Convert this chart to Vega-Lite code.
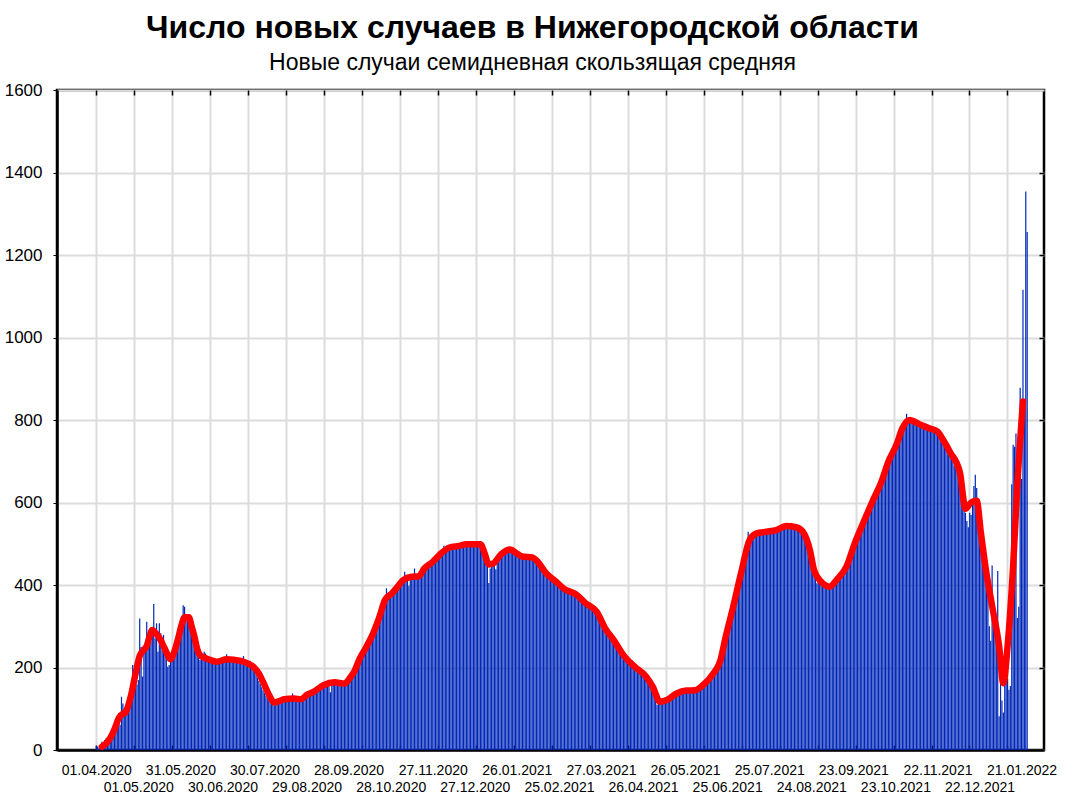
{
"$schema":"https://vega.github.io/schema/vega-lite/v6.json",
"width":987,"height":660,
"autosize":"none",
"padding":{"left":57,"top":90,"right":21,"bottom":46},
"background":"white",
"config":{"view":{"stroke":"black","strokeWidth":2.5},"font":"Liberation Sans","axis":{"labelFont":"Liberation Sans","labelColor":"black"}},
"title":{"text":"Число новых случаев в Нижегородской области","subtitle":"Новые случаи семидневная скользящая средняя","font":"Liberation Sans","fontSize":32,"fontWeight":"bold","color":"black","subtitleFont":"Liberation Sans","subtitleFontSize":23,"subtitleColor":"black","subtitlePadding":7,"anchor":"middle","dx":-18,"offset":5},
"datasets":{
"bars":[{"d":0,"n":10},{"d":1,"n":8},{"d":2,"n":4},{"d":3,"n":7},{"d":4,"n":20},{"d":5,"n":16},{"d":6,"n":24},{"d":7,"n":28},{"d":8,"n":30},{"d":9,"n":34},{"d":10,"n":40},{"d":11,"n":46},{"d":12,"n":55},{"d":13,"n":62},{"d":14,"n":75},{"d":15,"n":82},{"d":16,"n":89},{"d":17,"n":61},{"d":18,"n":129},{"d":19,"n":113},{"d":20,"n":101},{"d":21,"n":97},{"d":22,"n":93},{"d":23,"n":105},{"d":24,"n":121},{"d":25,"n":137},{"d":26,"n":206},{"d":27,"n":170},{"d":28,"n":186},{"d":29,"n":158},{"d":30,"n":170},{"d":31,"n":319},{"d":32,"n":250},{"d":33,"n":178},{"d":34,"n":242},{"d":35,"n":255},{"d":36,"n":311},{"d":37,"n":271},{"d":38,"n":287},{"d":39,"n":263},{"d":40,"n":287},{"d":41,"n":354},{"d":42,"n":271},{"d":43,"n":307},{"d":44,"n":238},{"d":45,"n":307},{"d":46,"n":283},{"d":47,"n":242},{"d":48,"n":279},{"d":49,"n":246},{"d":50,"n":230},{"d":51,"n":202},{"d":52,"n":206},{"d":53,"n":218},{"d":54,"n":222},{"d":55,"n":226},{"d":56,"n":234},{"d":57,"n":246},{"d":58,"n":255},{"d":59,"n":275},{"d":60,"n":299},{"d":61,"n":315},{"d":62,"n":351},{"d":63,"n":347},{"d":64,"n":323},{"d":65,"n":315},{"d":66,"n":311},{"d":67,"n":307},{"d":68,"n":291},{"d":69,"n":303},{"d":70,"n":271},{"d":71,"n":275},{"d":72,"n":246},{"d":73,"n":238},{"d":74,"n":218},{"d":75,"n":234},{"d":76,"n":222},{"d":77,"n":238},{"d":78,"n":234},{"d":79,"n":226},{"d":80,"n":214},
{"d":81,"n":218},{"d":82,"n":216},{"d":83,"n":215},{"d":84,"n":212},{"d":85,"n":214},{"d":86,"n":213},{"d":87,"n":215},{"d":88,"n":217},{"d":89,"n":219},{"d":90,"n":222},{"d":91,"n":220},{"d":92,"n":224},{"d":93,"n":232},{"d":94,"n":222},{"d":95,"n":219},{"d":96,"n":218},{"d":97,"n":216},{"d":98,"n":218},{"d":99,"n":215},{"d":100,"n":217},{"d":101,"n":214},{"d":102,"n":213},{"d":103,"n":216},{"d":104,"n":214},{"d":105,"n":228},{"d":106,"n":212},{"d":107,"n":210},{"d":108,"n":209},{"d":109,"n":206},{"d":110,"n":216},{"d":111,"n":200},{"d":112,"n":196},{"d":113,"n":190},{"d":114,"n":183},{"d":115,"n":176},{"d":116,"n":168},{"d":117,"n":160},{"d":118,"n":152},{"d":119,"n":145},{"d":120,"n":138},{"d":121,"n":132},{"d":122,"n":126},{"d":123,"n":120},{"d":124,"n":115},{"d":125,"n":112},{"d":126,"n":109},{"d":127,"n":108},{"d":128,"n":110},{"d":129,"n":114},{"d":130,"n":116},{"d":131,"n":118},{"d":132,"n":120},{"d":133,"n":121},{"d":134,"n":122},{"d":135,"n":125},{"d":136,"n":123},{"d":137,"n":124},{"d":138,"n":126},{"d":139,"n":124},{"d":140,"n":137},{"d":141,"n":125},{"d":142,"n":122},{"d":143,"n":123},{"d":144,"n":121},{"d":145,"n":122},{"d":146,"n":120},{"d":147,"n":124},{"d":148,"n":128},{"d":149,"n":131},{"d":150,"n":134},{"d":151,"n":136},{"d":152,"n":138},{"d":153,"n":139},{"d":154,"n":140},{"d":155,"n":141},{"d":156,"n":143},{"d":157,"n":145},{"d":158,"n":147},{"d":159,"n":150},{"d":160,"n":152},{"d":161,"n":154},{"d":162,"n":155},{"d":163,"n":157},{"d":164,"n":158},{"d":165,"n":160},{"d":166,"n":161},{"d":167,"n":140},{"d":168,"n":162},{"d":169,"n":164},{"d":170,"n":163},{"d":171,"n":165},{"d":172,"n":163},{"d":173,"n":162},{"d":174,"n":160},{"d":175,"n":161},{"d":176,"n":159},{"d":177,"n":160},{"d":178,"n":163},{"d":179,"n":167},{"d":180,"n":172},
{"d":181,"n":176},{"d":182,"n":181},{"d":183,"n":187},{"d":184,"n":193},{"d":185,"n":201},{"d":186,"n":208},{"d":187,"n":215},{"d":188,"n":221},{"d":189,"n":228},{"d":190,"n":234},{"d":191,"n":240},{"d":192,"n":246},{"d":193,"n":252},{"d":194,"n":258},{"d":195,"n":265},{"d":196,"n":272},{"d":197,"n":279},{"d":198,"n":288},{"d":199,"n":297},{"d":200,"n":306},{"d":201,"n":315},{"d":202,"n":324},{"d":203,"n":334},{"d":204,"n":344},{"d":205,"n":354},{"d":206,"n":362},{"d":207,"n":392},{"d":208,"n":372},{"d":209,"n":375},{"d":210,"n":378},{"d":211,"n":381},{"d":212,"n":384},{"d":213,"n":388},{"d":214,"n":392},{"d":215,"n":395},{"d":216,"n":398},{"d":217,"n":402},{"d":218,"n":406},{"d":219,"n":409},{"d":220,"n":432},{"d":221,"n":414},{"d":222,"n":416},{"d":223,"n":398},{"d":224,"n":418},{"d":225,"n":420},{"d":226,"n":419},{"d":227,"n":440},{"d":228,"n":418},{"d":229,"n":422},{"d":230,"n":421},{"d":231,"n":426},{"d":232,"n":430},{"d":233,"n":434},{"d":234,"n":438},{"d":235,"n":441},{"d":236,"n":444},{"d":237,"n":447},{"d":238,"n":450},{"d":239,"n":453},{"d":240,"n":456},{"d":241,"n":459},{"d":242,"n":463},{"d":243,"n":466},{"d":244,"n":470},{"d":245,"n":473},{"d":246,"n":476},{"d":247,"n":480},{"d":248,"n":495},{"d":249,"n":484},{"d":250,"n":486},{"d":251,"n":489},{"d":252,"n":490},{"d":253,"n":491},{"d":254,"n":492},{"d":255,"n":493},{"d":256,"n":493},{"d":257,"n":494},{"d":258,"n":495},{"d":259,"n":494},{"d":260,"n":496},{"d":261,"n":497},{"d":262,"n":498},{"d":263,"n":497},{"d":264,"n":499},{"d":265,"n":498},{"d":266,"n":499},{"d":267,"n":500},{"d":268,"n":499},{"d":269,"n":500},{"d":270,"n":498},{"d":271,"n":499},{"d":272,"n":500},{"d":273,"n":497},{"d":274,"n":495},{"d":275,"n":486},{"d":276,"n":478},{"d":277,"n":468},{"d":278,"n":458},{"d":279,"n":445},{"d":280,"n":405},
{"d":281,"n":440},{"d":282,"n":448},{"d":283,"n":452},{"d":284,"n":455},{"d":285,"n":438},{"d":286,"n":462},{"d":287,"n":467},{"d":288,"n":471},{"d":289,"n":474},{"d":290,"n":477},{"d":291,"n":480},{"d":292,"n":482},{"d":293,"n":484},{"d":294,"n":486},{"d":295,"n":485},{"d":296,"n":484},{"d":297,"n":482},{"d":298,"n":480},{"d":299,"n":478},{"d":300,"n":476},{"d":301,"n":474},{"d":302,"n":472},{"d":303,"n":470},{"d":304,"n":469},{"d":305,"n":468},{"d":306,"n":467},{"d":307,"n":468},{"d":308,"n":467},{"d":309,"n":466},{"d":310,"n":467},{"d":311,"n":465},{"d":312,"n":463},{"d":313,"n":461},{"d":314,"n":458},{"d":315,"n":454},{"d":316,"n":449},{"d":317,"n":444},{"d":318,"n":440},{"d":319,"n":436},{"d":320,"n":432},{"d":321,"n":428},{"d":322,"n":425},{"d":323,"n":422},{"d":324,"n":419},{"d":325,"n":416},{"d":326,"n":413},{"d":327,"n":410},{"d":328,"n":407},{"d":329,"n":404},{"d":330,"n":401},{"d":331,"n":398},{"d":332,"n":395},{"d":333,"n":392},{"d":334,"n":390},{"d":335,"n":388},{"d":336,"n":386},{"d":337,"n":385},{"d":338,"n":383},{"d":339,"n":382},{"d":340,"n":380},{"d":341,"n":379},{"d":342,"n":377},{"d":343,"n":374},{"d":344,"n":371},{"d":345,"n":368},{"d":346,"n":365},{"d":347,"n":362},{"d":348,"n":359},{"d":349,"n":356},{"d":350,"n":353},{"d":351,"n":350},{"d":352,"n":348},{"d":353,"n":345},{"d":354,"n":342},{"d":355,"n":339},{"d":356,"n":336},{"d":357,"n":332},{"d":358,"n":326},{"d":359,"n":318},{"d":360,"n":311},{"d":361,"n":304},{"d":362,"n":297},{"d":363,"n":292},{"d":364,"n":287},{"d":365,"n":282},{"d":366,"n":278},{"d":367,"n":273},{"d":368,"n":268},{"d":369,"n":264},{"d":370,"n":258},{"d":371,"n":253},{"d":372,"n":247},{"d":373,"n":242},{"d":374,"n":237},{"d":375,"n":232},{"d":376,"n":228},{"d":377,"n":224},{"d":378,"n":221},{"d":379,"n":218},{"d":380,"n":215},
{"d":381,"n":212},{"d":382,"n":218},{"d":383,"n":206},{"d":384,"n":202},{"d":385,"n":199},{"d":386,"n":196},{"d":387,"n":193},{"d":388,"n":190},{"d":389,"n":187},{"d":390,"n":184},{"d":391,"n":181},{"d":392,"n":178},{"d":393,"n":174},{"d":394,"n":169},{"d":395,"n":163},{"d":396,"n":157},{"d":397,"n":150},{"d":398,"n":140},{"d":399,"n":128},{"d":400,"n":110},{"d":401,"n":114},{"d":402,"n":112},{"d":403,"n":115},{"d":404,"n":117},{"d":405,"n":119},{"d":406,"n":121},{"d":407,"n":123},{"d":408,"n":125},{"d":409,"n":127},{"d":410,"n":129},{"d":411,"n":131},{"d":412,"n":133},{"d":413,"n":135},{"d":414,"n":137},{"d":415,"n":138},{"d":416,"n":140},{"d":417,"n":141},{"d":418,"n":142},{"d":419,"n":143},{"d":420,"n":144},{"d":421,"n":144},{"d":422,"n":145},{"d":423,"n":145},{"d":424,"n":144},{"d":425,"n":145},{"d":426,"n":146},{"d":427,"n":147},{"d":428,"n":149},{"d":429,"n":151},{"d":430,"n":153},{"d":431,"n":156},{"d":432,"n":158},{"d":433,"n":161},{"d":434,"n":164},{"d":435,"n":167},{"d":436,"n":170},{"d":437,"n":174},{"d":438,"n":178},{"d":439,"n":182},{"d":440,"n":187},{"d":441,"n":193},{"d":442,"n":199},{"d":443,"n":205},{"d":444,"n":212},{"d":445,"n":222},{"d":446,"n":236},{"d":447,"n":250},{"d":448,"n":264},{"d":449,"n":278},{"d":450,"n":292},{"d":451,"n":306},{"d":452,"n":319},{"d":453,"n":332},{"d":454,"n":345},{"d":455,"n":359},{"d":456,"n":373},{"d":457,"n":388},{"d":458,"n":402},{"d":459,"n":416},{"d":460,"n":430},{"d":461,"n":444},{"d":462,"n":458},{"d":463,"n":472},{"d":464,"n":486},{"d":465,"n":529},{"d":466,"n":510},{"d":467,"n":516},{"d":468,"n":519},{"d":469,"n":521},{"d":470,"n":523},{"d":471,"n":525},{"d":472,"n":526},{"d":473,"n":526},{"d":474,"n":527},{"d":475,"n":527},{"d":476,"n":528},{"d":477,"n":528},{"d":478,"n":529},{"d":479,"n":530},{"d":480,"n":530},
{"d":481,"n":531},{"d":482,"n":531},{"d":483,"n":532},{"d":484,"n":533},{"d":485,"n":533},{"d":486,"n":535},{"d":487,"n":536},{"d":488,"n":538},{"d":489,"n":539},{"d":490,"n":541},{"d":491,"n":542},{"d":492,"n":543},{"d":493,"n":544},{"d":494,"n":543},{"d":495,"n":542},{"d":496,"n":542},{"d":497,"n":541},{"d":498,"n":541},{"d":499,"n":547},{"d":500,"n":538},{"d":501,"n":536},{"d":502,"n":534},{"d":503,"n":531},{"d":504,"n":527},{"d":505,"n":520},{"d":506,"n":510},{"d":507,"n":500},{"d":508,"n":490},{"d":509,"n":480},{"d":510,"n":468},{"d":511,"n":455},{"d":512,"n":440},{"d":513,"n":426},{"d":514,"n":404},{"d":515,"n":414},{"d":516,"n":410},{"d":517,"n":407},{"d":518,"n":404},{"d":519,"n":401},{"d":520,"n":399},{"d":521,"n":397},{"d":522,"n":396},{"d":523,"n":395},{"d":524,"n":396},{"d":525,"n":399},{"d":526,"n":403},{"d":527,"n":407},{"d":528,"n":412},{"d":529,"n":416},{"d":530,"n":420},{"d":531,"n":425},{"d":532,"n":430},{"d":533,"n":435},{"d":534,"n":440},{"d":535,"n":446},{"d":536,"n":455},{"d":537,"n":465},{"d":538,"n":474},{"d":539,"n":484},{"d":540,"n":493},{"d":541,"n":501},{"d":542,"n":509},{"d":543,"n":517},{"d":544,"n":526},{"d":545,"n":534},{"d":546,"n":542},{"d":547,"n":550},{"d":548,"n":558},{"d":549,"n":566},{"d":550,"n":574},{"d":551,"n":582},{"d":552,"n":590},{"d":553,"n":598},{"d":554,"n":605},{"d":555,"n":613},{"d":556,"n":620},{"d":557,"n":628},{"d":558,"n":635},{"d":559,"n":643},{"d":560,"n":650},{"d":561,"n":660},{"d":562,"n":670},{"d":563,"n":680},{"d":564,"n":690},{"d":565,"n":699},{"d":566,"n":706},{"d":567,"n":714},{"d":568,"n":721},{"d":569,"n":728},{"d":570,"n":735},{"d":571,"n":742},{"d":572,"n":752},{"d":573,"n":761},{"d":574,"n":771},{"d":575,"n":780},{"d":576,"n":785},{"d":577,"n":790},{"d":578,"n":815},{"d":579,"n":798},{"d":580,"n":800},
{"d":581,"n":799},{"d":582,"n":797},{"d":583,"n":796},{"d":584,"n":794},{"d":585,"n":793},{"d":586,"n":791},{"d":587,"n":790},{"d":588,"n":788},{"d":589,"n":787},{"d":590,"n":785},{"d":591,"n":784},{"d":592,"n":783},{"d":593,"n":781},{"d":594,"n":780},{"d":595,"n":779},{"d":596,"n":778},{"d":597,"n":777},{"d":598,"n":775},{"d":599,"n":774},{"d":600,"n":772},{"d":601,"n":768},{"d":602,"n":763},{"d":603,"n":758},{"d":604,"n":752},{"d":605,"n":746},{"d":606,"n":740},{"d":607,"n":734},{"d":608,"n":728},{"d":609,"n":721},{"d":610,"n":712},{"d":611,"n":700},{"d":612,"n":690},{"d":613,"n":683},{"d":614,"n":676},{"d":615,"n":668},{"d":616,"n":660},{"d":617,"n":648},{"d":618,"n":625},{"d":619,"n":600},{"d":620,"n":575},{"d":621,"n":555},{"d":622,"n":540},{"d":623,"n":575},{"d":624,"n":570},{"d":625,"n":600},{"d":626,"n":640},{"d":627,"n":667},{"d":628,"n":635},{"d":629,"n":560},{"d":630,"n":520},{"d":631,"n":490},{"d":632,"n":466},{"d":633,"n":440},{"d":634,"n":493},{"d":635,"n":400},{"d":636,"n":384},{"d":637,"n":300},{"d":638,"n":265},{"d":639,"n":447},{"d":640,"n":356},{"d":641,"n":330},{"d":642,"n":310},{"d":643,"n":434},{"d":644,"n":82},{"d":645,"n":192},{"d":646,"n":120},{"d":647,"n":91},{"d":648,"n":210},{"d":649,"n":265},{"d":650,"n":173},{"d":651,"n":146},{"d":652,"n":155},{"d":653,"n":644},{"d":654,"n":740},{"d":655,"n":735},{"d":656,"n":767},{"d":657,"n":320},{"d":658,"n":347},{"d":659,"n":878},{"d":660,"n":657},{"d":661,"n":1116},{"d":662,"n":845},{"d":663,"n":1354},{"d":664,"n":1256}],
"avg":[{"d":4,"a":8},{"d":7,"a":16},{"d":10,"a":29},{"d":13,"a":50},{"d":16,"a":77},{"d":19,"a":88},{"d":21,"a":92},{"d":23,"a":110},{"d":25,"a":135},{"d":28,"a":185},{"d":31,"a":228},{"d":34,"a":243},{"d":36,"a":252},{"d":38,"a":275},{"d":40,"a":291},{"d":42,"a":285},{"d":45,"a":272},{"d":49,"a":245},{"d":53,"a":220},{"d":55,"a":232},{"d":58,"a":265},{"d":61,"a":305},{"d":63,"a":322},{"d":66,"a":322},{"d":68,"a":300},{"d":70,"a":275},{"d":72,"a":245},{"d":74,"a":230},{"d":77,"a":224},{"d":80,"a":220},{"d":86,"a":214},{"d":93,"a":220},{"d":103,"a":216},{"d":108,"a":210},{"d":112,"a":202},{"d":116,"a":185},{"d":119,"a":165},{"d":123,"a":135},{"d":127,"a":115},{"d":130,"a":118},{"d":134,"a":123},{"d":141,"a":125},{"d":146,"a":123},{"d":150,"a":133},{"d":155,"a":141},{"d":162,"a":157},{"d":170,"a":164},{"d":177,"a":161},{"d":181,"a":175},{"d":184,"a":190},{"d":188,"a":222},{"d":192,"a":246},{"d":197,"a":279},{"d":202,"a":323},{"d":206,"a":364},{"d":211,"a":380},{"d":215,"a":396},{"d":219,"a":412},{"d":225,"a":420},{"d":230,"a":421},{"d":234,"a":440},{"d":240,"a":456},{"d":246,"a":477},{"d":252,"a":491},{"d":259,"a":495},{"d":264,"a":499},{"d":274,"a":499},{"d":277,"a":477},{"d":280,"a":450},{"d":283,"a":452},{"d":289,"a":475},{"d":295,"a":486},{"d":301,"a":474},{"d":304,"a":469},{"d":311,"a":467},{"d":315,"a":456},{"d":321,"a":428},{"d":328,"a":408},{"d":334,"a":390},{"d":342,"a":378},{"d":349,"a":356},{"d":357,"a":335},{"d":363,"a":295},{"d":369,"a":267},{"d":376,"a":230},{"d":384,"a":202},{"d":392,"a":179},{"d":397,"a":153},{"d":402,"a":117},{"d":407,"a":121},{"d":414,"a":137},{"d":421,"a":144},{"d":427,"a":145},{"d":433,"a":158},{"d":440,"a":185},{"d":445,"a":215},{"d":449,"a":275},{"d":454,"a":343},{"d":460,"a":430},{"d":466,"a":509},{"d":471,"a":525},{"d":478,"a":529},{"d":485,"a":533},{"d":492,"a":543},{"d":499,"a":540},{"d":504,"a":529},{"d":509,"a":485},{"d":512,"a":436},{"d":517,"a":408},{"d":523,"a":396},{"d":529,"a":416},{"d":535,"a":444},{"d":541,"a":501},{"d":547,"a":550},{"d":554,"a":605},{"d":560,"a":650},{"d":565,"a":699},{"d":571,"a":742},{"d":575,"a":780},{"d":580,"a":800},{"d":587,"a":790},{"d":594,"a":780},{"d":600,"a":772},{"d":604,"a":752},{"d":609,"a":722},{"d":616,"a":673},{"d":620,"a":585},{"d":624,"a":600},{"d":628,"a":604},{"d":631,"a":526},{"d":635,"a":427},{"d":639,"a":349},{"d":644,"a":251},{"d":647,"a":162},{"d":650,"a":251},{"d":654,"a":447},{"d":657,"a":644},{"d":661,"a":845}]
},
"layer":[
{"data":{"name":"bars"},
 "mark":{"type":"bar","color":"#0028b8","size":1.2},
 "encoding":{
  "x":{"field":"d","type":"quantitative","scale":{"domain":[-28,676],"nice":false,"zero":false,"padding":0},
   "axis":{"orient":"bottom","values":[0,27.1,54.2,81.2,108.3,135.4,162.5,189.6,216.6,243.7,270.8,297.9,325,352,379.1,406.2,433.3,460.4,487.4,514.5,541.6,568.7,595.8,622.8,649.9],"grid":true,"gridColor":"#dcdcdc","gridWidth":2,"labels":false,"ticks":true,"tickSize":-5,"tickColor":"black","tickWidth":1.5,"domain":true,"domainColor":"black","domainWidth":2.5,"title":null}},
  "y":{"field":"n","type":"quantitative","scale":{"domain":[0,1600],"nice":false},
   "axis":{"orient":"left","values":[0,200,400,600,800,1000,1200,1400,1600],"format":"d","grid":true,"gridColor":"#dcdcdc","gridWidth":2,"labelFontSize":17,"labelPadding":11,"tickSize":4,"tickColor":"black","domainColor":"black","domainWidth":2.5,"title":null}}}},
{"data":{"name":"avg"},
 "mark":{"type":"line","color":"#ff0000","strokeWidth":6.5,"interpolate":"monotone","strokeCap":"round","strokeJoin":"round"},
 "encoding":{
  "x":{"field":"d","type":"quantitative","scale":{"domain":[-28,676],"nice":false,"zero":false,"padding":0},
   "axis":{"orient":"bottom","values":[0,30,60,90,120,150,180,210,240,270,300,330,360,390,420,450,480,510,540,570,600,630,660],"labelExpr":"(datum.value/30)%2==1 ? ['', timeFormat(datetime(2020,3,1+datum.value),'%d.%m.%Y')] : timeFormat(datetime(2020,3,1+datum.value),'%d.%m.%Y')","grid":false,"ticks":false,"domain":false,"labelFontSize":14,"labelPadding":13,"labelBaseline":"top","labelLineHeight":17,"labelOverlap":false,"labelFlush":false,"title":null}},
  "y":{"field":"a","type":"quantitative","scale":{"domain":[0,1600],"nice":false},
   "axis":{"orient":"right","values":[200,400,600,800,1000,1200,1400],"labels":false,"grid":false,"tickSize":-5,"tickColor":"black","tickWidth":1.5,"domain":false,"title":null}}}},
{"data":{"name":"avg"},
 "mark":{"type":"point","opacity":0},
 "encoding":{
  "x":{"field":"d","type":"quantitative","scale":{"domain":[-28,676],"nice":false,"zero":false,"padding":0},
   "axis":{"orient":"top","values":[0,27.1,54.2,81.2,108.3,135.4,162.5,189.6,216.6,243.7,270.8,297.9,325,352,379.1,406.2,433.3,460.4,487.4,514.5,541.6,568.7,595.8,622.8,649.9],"labels":false,"grid":false,"tickSize":-5,"tickColor":"black","tickWidth":1.5,"domain":false,"title":null}},
  "y":{"field":"a","type":"quantitative","scale":{"domain":[0,1600],"nice":false},"axis":null}}}
],
"resolve":{"axis":{"x":"independent","y":"independent"}}
}
